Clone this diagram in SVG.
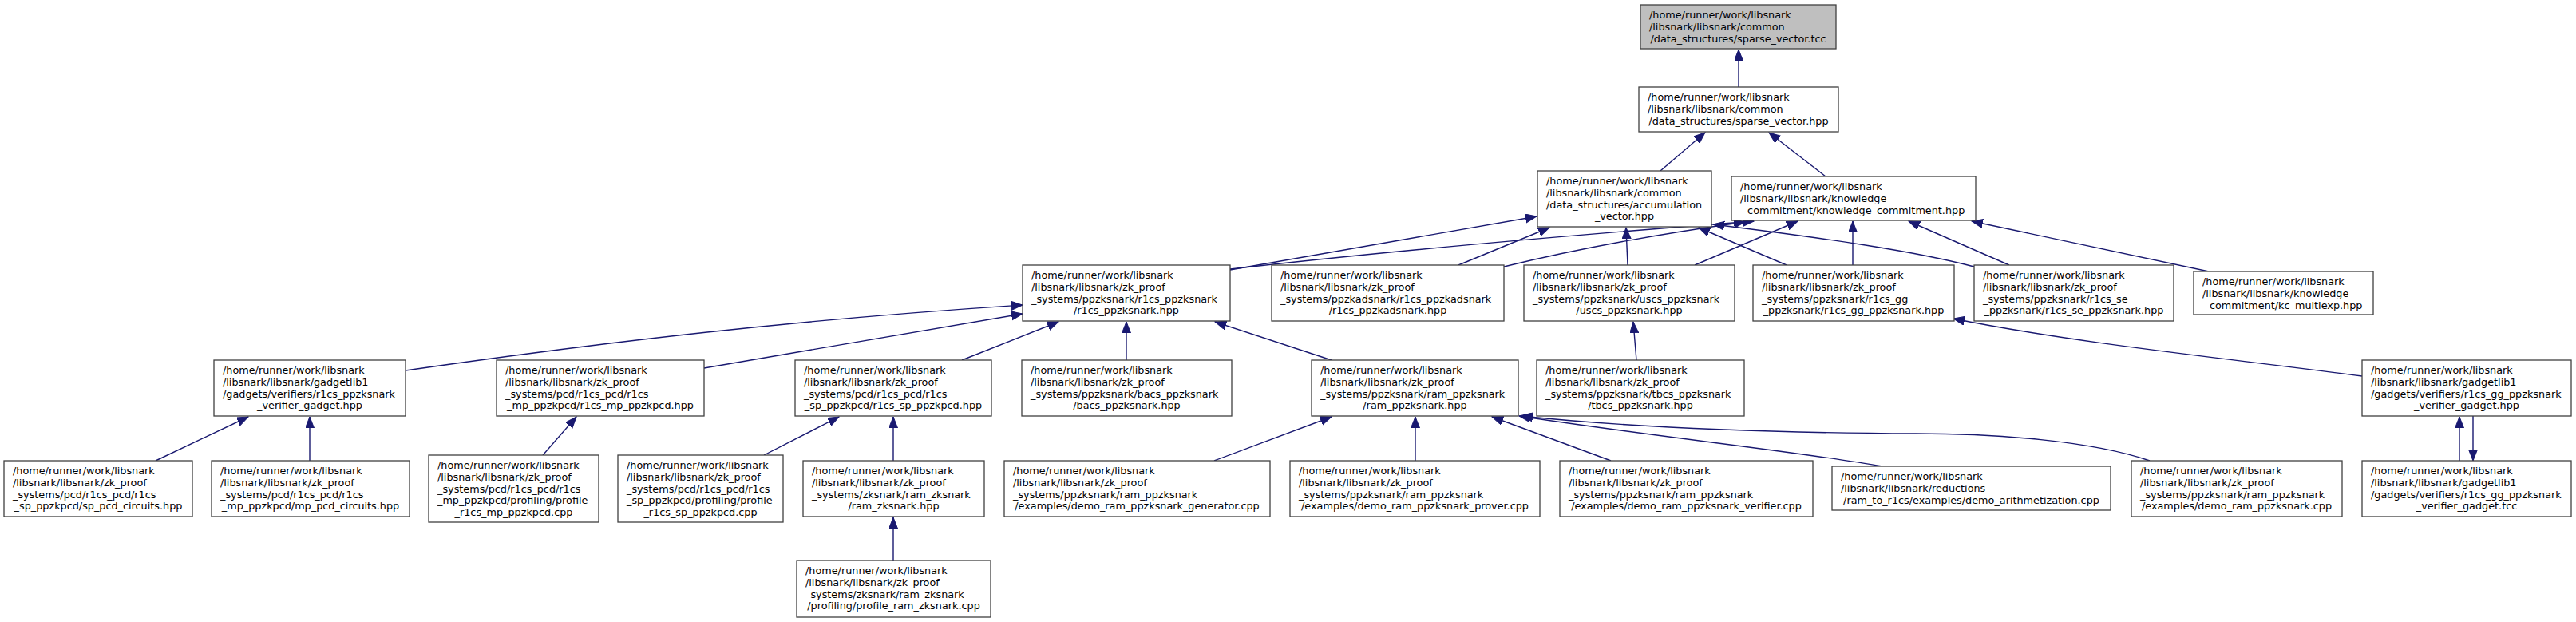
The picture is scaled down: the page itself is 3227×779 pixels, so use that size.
<svg xmlns="http://www.w3.org/2000/svg" width="3227" height="779" viewBox="0 0 3227 779">
<defs>
<style>
.node rect{fill:#ffffff;stroke:#404040;stroke-width:1.3}
.root rect{fill:#bfbfbf}
text{font-family:"DejaVu Sans","Liberation Sans",sans-serif;font-size:12.8px;fill:#000000}
.c{text-anchor:middle}
#edges path{fill:none;stroke:#191970;stroke-width:1.4;marker-end:url(#ah)}
</style>
<marker id="ah" markerUnits="userSpaceOnUse" markerWidth="16" markerHeight="13" refX="14" refY="5.5" orient="auto"><path d="M0,0 L14,5.5 L0,11 z" fill="#191970" stroke="#191970" stroke-width="1"/></marker>
</defs>
<rect width="3227" height="779" fill="#ffffff"/>
<g id="edges">
<path d="M2178,109 L2178,62"/>
<path d="M2080,214 L2136,166"/>
<path d="M2287,221 L2216,166"/>
<path d="M1541,338 L1925,271"/>
<path d="M1541,337 C1760,312 2000,292 2197,277"/>
<path d="M1827,332 L1941,285"/>
<path d="M1884,334 C1990,308 2100,290 2186,278"/>
<path d="M2039,332 L2037,285"/>
<path d="M2123,332 L2252,277"/>
<path d="M2238,332 L2128,285"/>
<path d="M2321,332 L2321,277"/>
<path d="M2473,334 C2400,315 2300,300 2146,281"/>
<path d="M2517,332 L2391,277"/>
<path d="M2767,340 L2470,277"/>
<path d="M508,464 C760,428 1000,400 1281,382"/>
<path d="M882,461 L1281,393"/>
<path d="M1205,451 L1326,403"/>
<path d="M1411,451 L1411,403"/>
<path d="M1668,451 L1522,403"/>
<path d="M195,577 L311,522"/>
<path d="M388,577 L388,522"/>
<path d="M680,570 L722,522"/>
<path d="M957,570 L1051,522"/>
<path d="M1119,577 L1119,522"/>
<path d="M1119,702 L1119,648"/>
<path d="M2050,451 L2046,403"/>
<path d="M1521,577 L1668,522"/>
<path d="M1773,577 L1773,522"/>
<path d="M2018,577 L1869,522"/>
<path d="M2358,584 C2250,565 2080,548 1903,521"/>
<path d="M2693,577 C2620,552 2500,543 2400,543 C2200,542 2040,535 1906,521"/>
<path d="M2959,471 C2800,450 2600,430 2447,399"/>
<path d="M3081,577 L3081,522"/>
<path d="M3098,521 L3098,577"/>
</g>
<g id="n0" class="node root"><rect x="2055" y="6" width="245" height="55"/><text x="2066" y="23.3">/home/runner/work/libsnark</text><text x="2066" y="38">/libsnark/libsnark/common</text><text class="c" x="2177.5" y="52.7">/data_structures/sparse_vector.tcc</text></g>
<g id="n1" class="node"><rect x="2053" y="109" width="250" height="56"/><text x="2064" y="126.3">/home/runner/work/libsnark</text><text x="2064" y="141">/libsnark/libsnark/common</text><text class="c" x="2178" y="155.7">/data_structures/sparse_vector.hpp</text></g>
<g id="n2" class="node"><rect x="1926" y="214" width="218" height="70"/><text x="1937" y="231.3">/home/runner/work/libsnark</text><text x="1937" y="246">/libsnark/libsnark/common</text><text x="1937" y="260.7">/data_structures/accumulation</text><text class="c" x="2035" y="275.4">_vector.hpp</text></g>
<g id="n3" class="node"><rect x="2169" y="221" width="306" height="55"/><text x="2180" y="238.3">/home/runner/work/libsnark</text><text x="2180" y="253">/libsnark/libsnark/knowledge</text><text class="c" x="2322" y="267.7">_commitment/knowledge_commitment.hpp</text></g>
<g id="n4" class="node"><rect x="1281" y="332" width="260" height="70"/><text x="1292" y="349.3">/home/runner/work/libsnark</text><text x="1292" y="364">/libsnark/libsnark/zk_proof</text><text x="1292" y="378.7">_systems/ppzksnark/r1cs_ppzksnark</text><text class="c" x="1411" y="393.4">/r1cs_ppzksnark.hpp</text></g>
<g id="n5" class="node"><rect x="1593" y="332" width="291" height="70"/><text x="1604" y="349.3">/home/runner/work/libsnark</text><text x="1604" y="364">/libsnark/libsnark/zk_proof</text><text x="1604" y="378.7">_systems/ppzkadsnark/r1cs_ppzkadsnark</text><text class="c" x="1738.5" y="393.4">/r1cs_ppzkadsnark.hpp</text></g>
<g id="n6" class="node"><rect x="1909" y="332" width="264" height="70"/><text x="1920" y="349.3">/home/runner/work/libsnark</text><text x="1920" y="364">/libsnark/libsnark/zk_proof</text><text x="1920" y="378.7">_systems/ppzksnark/uscs_ppzksnark</text><text class="c" x="2041" y="393.4">/uscs_ppzksnark.hpp</text></g>
<g id="n7" class="node"><rect x="2196" y="332" width="252" height="70"/><text x="2207" y="349.3">/home/runner/work/libsnark</text><text x="2207" y="364">/libsnark/libsnark/zk_proof</text><text x="2207" y="378.7">_systems/ppzksnark/r1cs_gg</text><text class="c" x="2322" y="393.4">_ppzksnark/r1cs_gg_ppzksnark.hpp</text></g>
<g id="n8" class="node"><rect x="2473" y="332" width="250" height="70"/><text x="2484" y="349.3">/home/runner/work/libsnark</text><text x="2484" y="364">/libsnark/libsnark/zk_proof</text><text x="2484" y="378.7">_systems/ppzksnark/r1cs_se</text><text class="c" x="2598" y="393.4">_ppzksnark/r1cs_se_ppzksnark.hpp</text></g>
<g id="n9" class="node"><rect x="2748" y="340" width="225" height="54"/><text x="2759" y="357.3">/home/runner/work/libsnark</text><text x="2759" y="372">/libsnark/libsnark/knowledge</text><text class="c" x="2860.5" y="386.7">_commitment/kc_multiexp.hpp</text></g>
<g id="n10" class="node"><rect x="268" y="451" width="240" height="70"/><text x="279" y="468.3">/home/runner/work/libsnark</text><text x="279" y="483">/libsnark/libsnark/gadgetlib1</text><text x="279" y="497.7">/gadgets/verifiers/r1cs_ppzksnark</text><text class="c" x="388" y="512.4">_verifier_gadget.hpp</text></g>
<g id="n11" class="node"><rect x="622" y="451" width="260" height="70"/><text x="633" y="468.3">/home/runner/work/libsnark</text><text x="633" y="483">/libsnark/libsnark/zk_proof</text><text x="633" y="497.7">_systems/pcd/r1cs_pcd/r1cs</text><text class="c" x="752" y="512.4">_mp_ppzkpcd/r1cs_mp_ppzkpcd.hpp</text></g>
<g id="n16" class="node"><rect x="996" y="451" width="246" height="70"/><text x="1007" y="468.3">/home/runner/work/libsnark</text><text x="1007" y="483">/libsnark/libsnark/zk_proof</text><text x="1007" y="497.7">_systems/pcd/r1cs_pcd/r1cs</text><text class="c" x="1119" y="512.4">_sp_ppzkpcd/r1cs_sp_ppzkpcd.hpp</text></g>
<g id="n17" class="node"><rect x="1280" y="451" width="263" height="70"/><text x="1291" y="468.3">/home/runner/work/libsnark</text><text x="1291" y="483">/libsnark/libsnark/zk_proof</text><text x="1291" y="497.7">_systems/ppzksnark/bacs_ppzksnark</text><text class="c" x="1411.5" y="512.4">/bacs_ppzksnark.hpp</text></g>
<g id="n20" class="node"><rect x="1643" y="451" width="259" height="70"/><text x="1654" y="468.3">/home/runner/work/libsnark</text><text x="1654" y="483">/libsnark/libsnark/zk_proof</text><text x="1654" y="497.7">_systems/ppzksnark/ram_ppzksnark</text><text class="c" x="1772.5" y="512.4">/ram_ppzksnark.hpp</text></g>
<g id="n21" class="node"><rect x="1925" y="451" width="260" height="70"/><text x="1936" y="468.3">/home/runner/work/libsnark</text><text x="1936" y="483">/libsnark/libsnark/zk_proof</text><text x="1936" y="497.7">_systems/ppzksnark/tbcs_ppzksnark</text><text class="c" x="2055" y="512.4">/tbcs_ppzksnark.hpp</text></g>
<g id="n26" class="node"><rect x="2959" y="451" width="262" height="70"/><text x="2970" y="468.3">/home/runner/work/libsnark</text><text x="2970" y="483">/libsnark/libsnark/gadgetlib1</text><text x="2970" y="497.7">/gadgets/verifiers/r1cs_gg_ppzksnark</text><text class="c" x="3090" y="512.4">_verifier_gadget.hpp</text></g>
<g id="n12" class="node"><rect x="5" y="577" width="236" height="70"/><text x="16" y="594.3">/home/runner/work/libsnark</text><text x="16" y="609">/libsnark/libsnark/zk_proof</text><text x="16" y="623.7">_systems/pcd/r1cs_pcd/r1cs</text><text class="c" x="123" y="638.4">_sp_ppzkpcd/sp_pcd_circuits.hpp</text></g>
<g id="n13" class="node"><rect x="265" y="577" width="248" height="70"/><text x="276" y="594.3">/home/runner/work/libsnark</text><text x="276" y="609">/libsnark/libsnark/zk_proof</text><text x="276" y="623.7">_systems/pcd/r1cs_pcd/r1cs</text><text class="c" x="389" y="638.4">_mp_ppzkpcd/mp_pcd_circuits.hpp</text></g>
<g id="n14" class="node"><rect x="537" y="570" width="213" height="84"/><text x="548" y="587.3">/home/runner/work/libsnark</text><text x="548" y="602">/libsnark/libsnark/zk_proof</text><text x="548" y="616.7">_systems/pcd/r1cs_pcd/r1cs</text><text x="548" y="631.4">_mp_ppzkpcd/profiling/profile</text><text class="c" x="643.5" y="646.1">_r1cs_mp_ppzkpcd.cpp</text></g>
<g id="n15" class="node"><rect x="774" y="570" width="207" height="84"/><text x="785" y="587.3">/home/runner/work/libsnark</text><text x="785" y="602">/libsnark/libsnark/zk_proof</text><text x="785" y="616.7">_systems/pcd/r1cs_pcd/r1cs</text><text x="785" y="631.4">_sp_ppzkpcd/profiling/profile</text><text class="c" x="877.5" y="646.1">_r1cs_sp_ppzkpcd.cpp</text></g>
<g id="n18" class="node"><rect x="1006" y="577" width="227" height="70"/><text x="1017" y="594.3">/home/runner/work/libsnark</text><text x="1017" y="609">/libsnark/libsnark/zk_proof</text><text x="1017" y="623.7">_systems/zksnark/ram_zksnark</text><text class="c" x="1119.5" y="638.4">/ram_zksnark.hpp</text></g>
<g id="n19" class="node"><rect x="1258" y="577" width="333" height="70"/><text x="1269" y="594.3">/home/runner/work/libsnark</text><text x="1269" y="609">/libsnark/libsnark/zk_proof</text><text x="1269" y="623.7">_systems/ppzksnark/ram_ppzksnark</text><text class="c" x="1424.5" y="638.4">/examples/demo_ram_ppzksnark_generator.cpp</text></g>
<g id="n22" class="node"><rect x="1616" y="577" width="313" height="70"/><text x="1627" y="594.3">/home/runner/work/libsnark</text><text x="1627" y="609">/libsnark/libsnark/zk_proof</text><text x="1627" y="623.7">_systems/ppzksnark/ram_ppzksnark</text><text class="c" x="1772.5" y="638.4">/examples/demo_ram_ppzksnark_prover.cpp</text></g>
<g id="n23" class="node"><rect x="1954" y="577" width="317" height="70"/><text x="1965" y="594.3">/home/runner/work/libsnark</text><text x="1965" y="609">/libsnark/libsnark/zk_proof</text><text x="1965" y="623.7">_systems/ppzksnark/ram_ppzksnark</text><text class="c" x="2112.5" y="638.4">/examples/demo_ram_ppzksnark_verifier.cpp</text></g>
<g id="n24" class="node"><rect x="2295" y="584" width="349" height="55"/><text x="2306" y="601.3">/home/runner/work/libsnark</text><text x="2306" y="616">/libsnark/libsnark/reductions</text><text class="c" x="2469.5" y="630.7">/ram_to_r1cs/examples/demo_arithmetization.cpp</text></g>
<g id="n25" class="node"><rect x="2670" y="577" width="264" height="70"/><text x="2681" y="594.3">/home/runner/work/libsnark</text><text x="2681" y="609">/libsnark/libsnark/zk_proof</text><text x="2681" y="623.7">_systems/ppzksnark/ram_ppzksnark</text><text class="c" x="2802" y="638.4">/examples/demo_ram_ppzksnark.cpp</text></g>
<g id="n27" class="node"><rect x="2959" y="577" width="262" height="70"/><text x="2970" y="594.3">/home/runner/work/libsnark</text><text x="2970" y="609">/libsnark/libsnark/gadgetlib1</text><text x="2970" y="623.7">/gadgets/verifiers/r1cs_gg_ppzksnark</text><text class="c" x="3090" y="638.4">_verifier_gadget.tcc</text></g>
<g id="n28" class="node"><rect x="998" y="702" width="243" height="71"/><text x="1009" y="719.3">/home/runner/work/libsnark</text><text x="1009" y="734">/libsnark/libsnark/zk_proof</text><text x="1009" y="748.7">_systems/zksnark/ram_zksnark</text><text class="c" x="1119.5" y="763.4">/profiling/profile_ram_zksnark.cpp</text></g>
</svg>
